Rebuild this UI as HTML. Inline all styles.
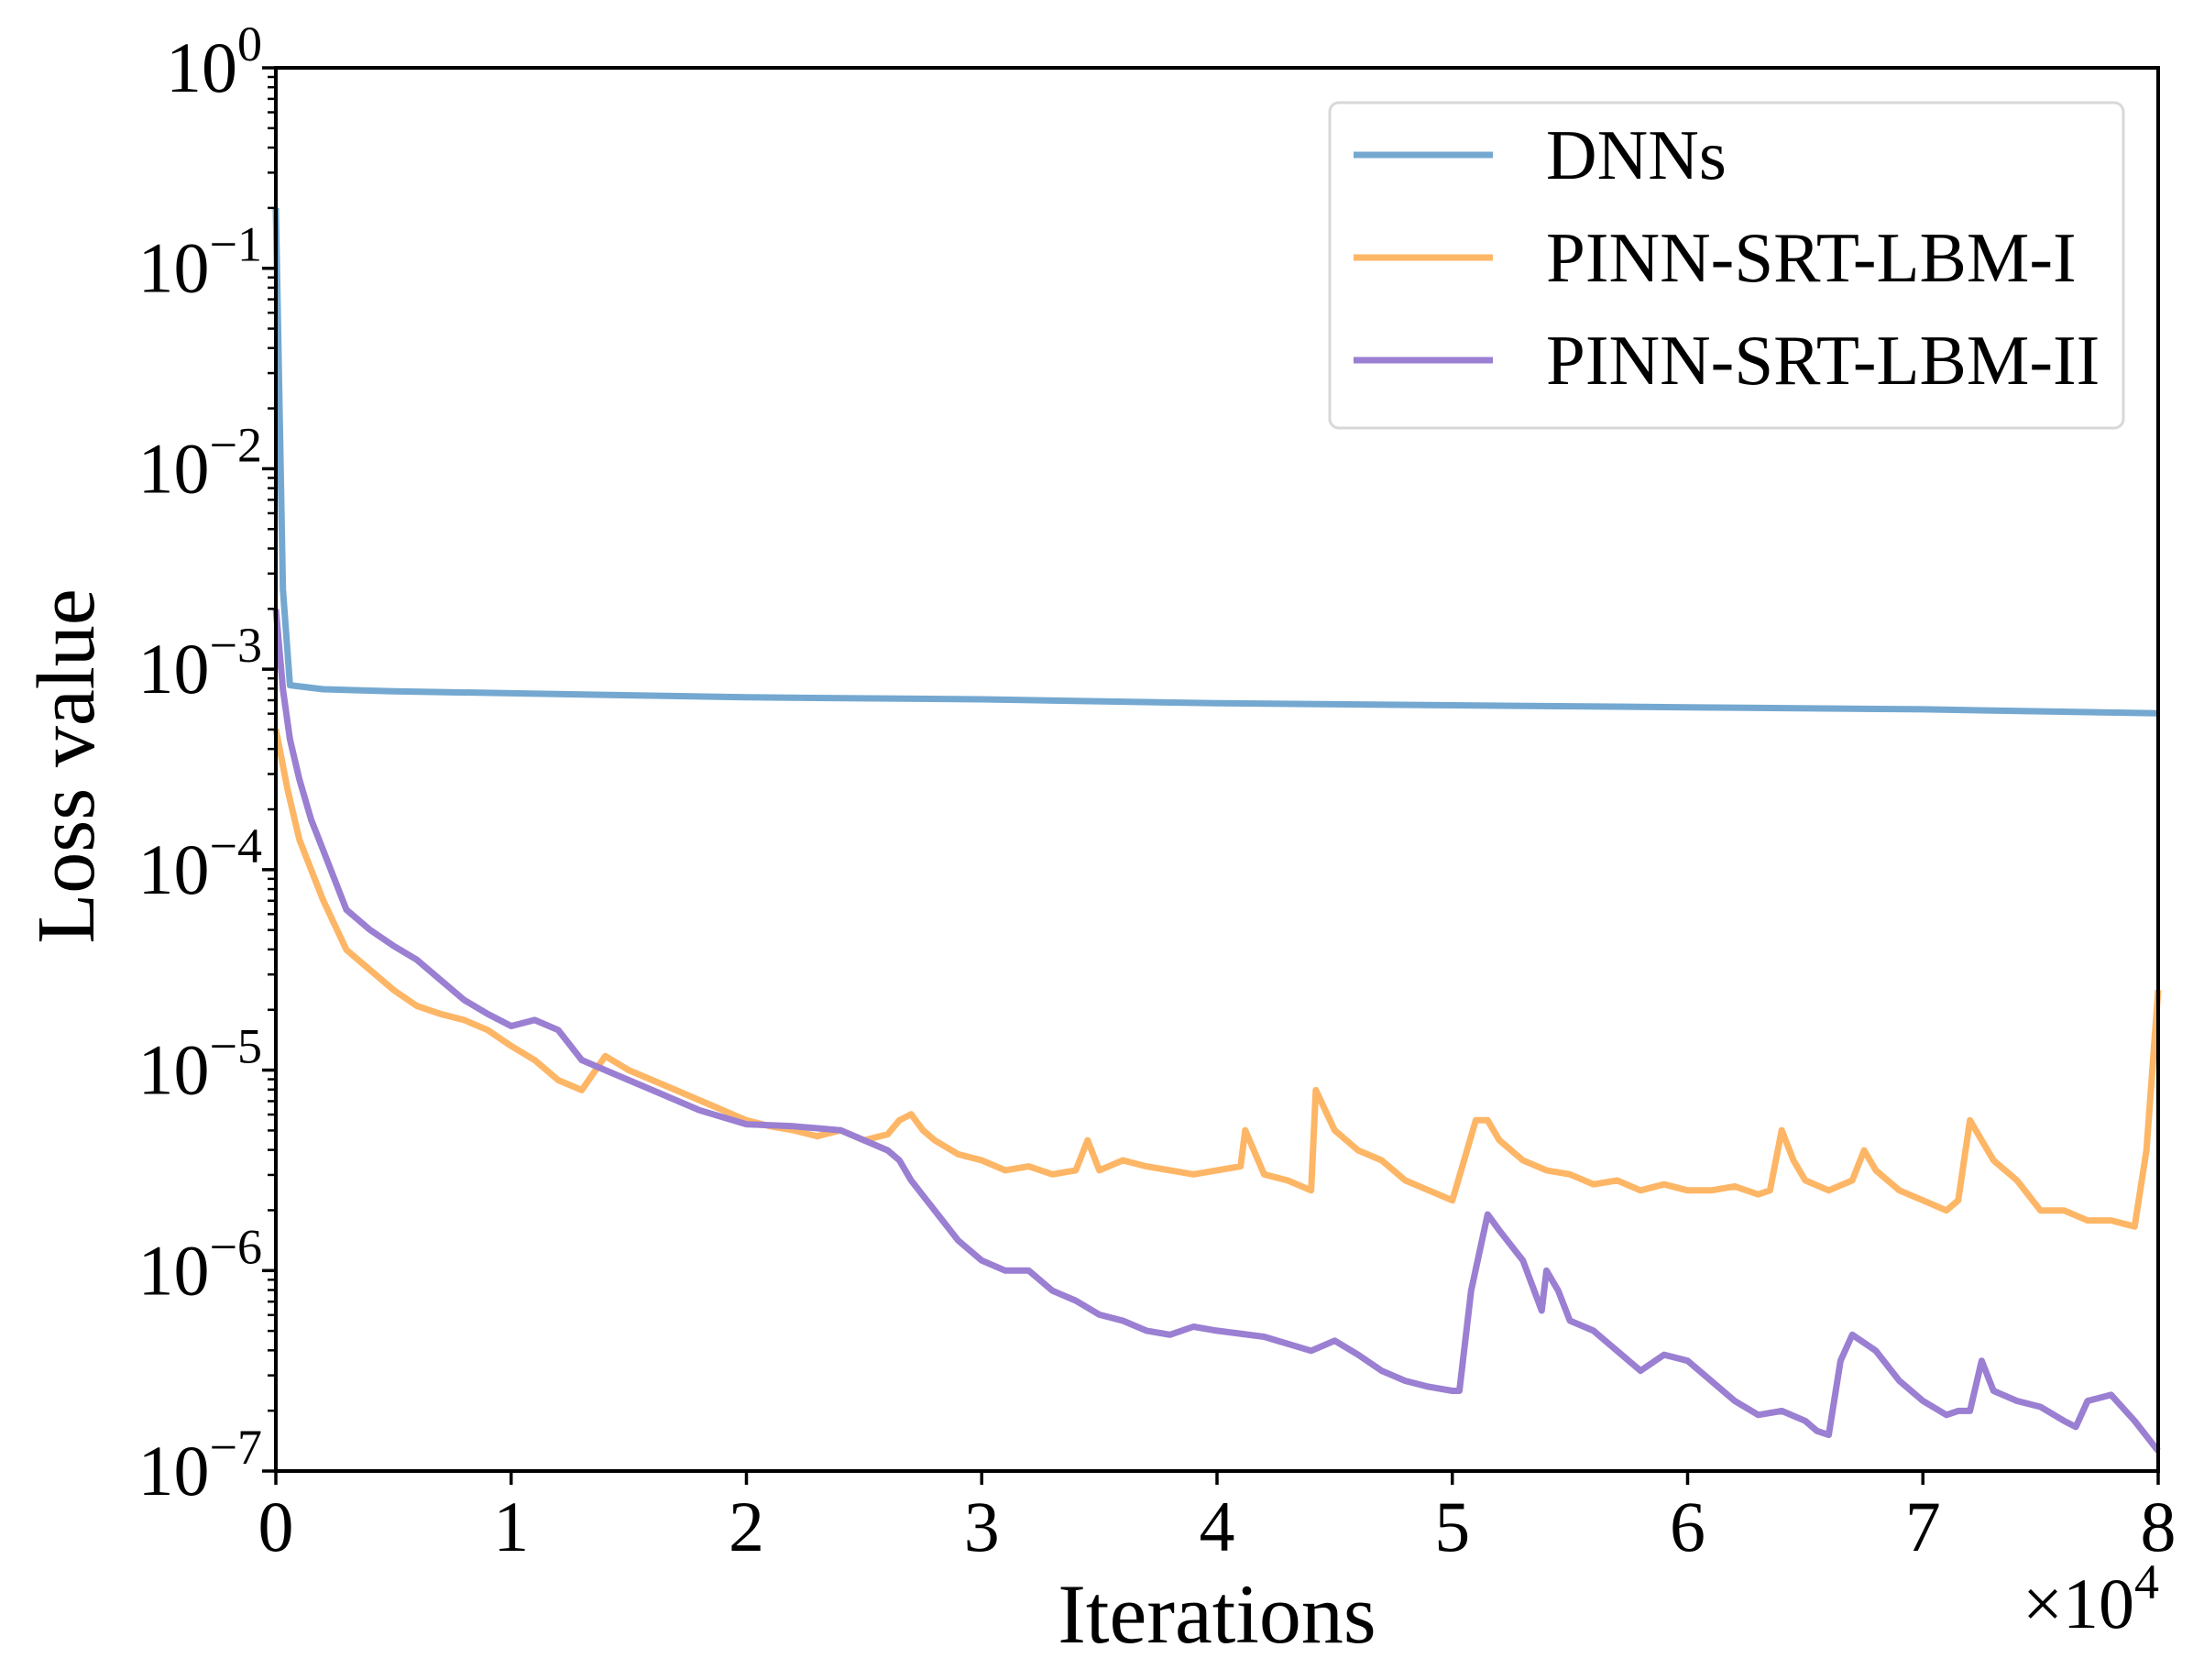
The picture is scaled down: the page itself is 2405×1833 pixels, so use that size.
<!DOCTYPE html>
<html><head><meta charset="utf-8"><style>
html,body{margin:0;padding:0;background:#fff;}
svg{display:block;font-family:"Liberation Serif",serif;}
</style></head><body>
<svg id="chart" width="2405" height="1833" viewBox="0 0 2405 1833">
<g id="plot"></g>
</svg>
<script>
const xTicks=[0,1,2,3,4,5,6,7,8];
const yTicks=[0,-1,-2,-3,-4,-5,-6,-7];
const seriesNames=["DNNs","PINN-SRT-LBM-I","PINN-SRT-LBM-II"];
const dnnX=[0,0.03,0.06,0.2,0.5,1,2,3,4,5,6,7,8];
const dnnY=[-0.7,-2.6,-3.08,-3.1,-3.11,-3.12,-3.14,-3.15,-3.17,-3.18,-3.19,-3.2,-3.22];
const pinn1X=[0,0.05,0.1,0.2,0.3,0.4,0.5,0.6,0.7,0.8,0.9,1.0,1.1,1.2,1.3,1.4,1.5,1.6,1.7,1.8,1.9,2.0,2.1,2.2,2.3,2.4,2.5,2.6,2.65,2.7,2.75,2.8,2.9,3.0,3.1,3.2,3.3,3.4,3.45,3.5,3.6,3.7,3.8,3.9,4.0,4.1,4.12,4.2,4.3,4.4,4.42,4.5,4.6,4.7,4.8,4.9,5.0,5.05,5.1,5.15,5.2,5.3,5.4,5.5,5.6,5.7,5.8,5.9,6.0,6.1,6.2,6.3,6.35,6.4,6.45,6.5,6.6,6.7,6.75,6.8,6.9,7.0,7.1,7.15,7.2,7.3,7.4,7.5,7.6,7.7,7.8,7.9,7.95,8.0];
const pinn1Y=[-3.3,-3.6,-3.85,-4.15,-4.4,-4.5,-4.6,-4.68,-4.72,-4.75,-4.8,-4.88,-4.95,-5.05,-5.1,-4.93,-5.0,-5.05,-5.1,-5.15,-5.2,-5.25,-5.28,-5.3,-5.33,-5.3,-5.35,-5.32,-5.25,-5.22,-5.3,-5.35,-5.42,-5.45,-5.5,-5.48,-5.52,-5.5,-5.35,-5.5,-5.45,-5.48,-5.5,-5.52,-5.5,-5.48,-5.3,-5.52,-5.55,-5.6,-5.1,-5.3,-5.4,-5.45,-5.55,-5.6,-5.65,-5.45,-5.25,-5.25,-5.35,-5.45,-5.5,-5.52,-5.57,-5.55,-5.6,-5.57,-5.6,-5.6,-5.58,-5.62,-5.6,-5.3,-5.45,-5.55,-5.6,-5.55,-5.4,-5.5,-5.6,-5.65,-5.7,-5.65,-5.25,-5.45,-5.55,-5.7,-5.7,-5.75,-5.75,-5.78,-5.4,-4.6];
const pinn2X=[0,0.03,0.06,0.1,0.15,0.2,0.3,0.4,0.5,0.6,0.7,0.8,0.9,1.0,1.1,1.2,1.3,1.4,1.5,1.6,1.8,2.0,2.2,2.4,2.5,2.6,2.65,2.7,2.8,2.9,3.0,3.1,3.2,3.3,3.4,3.5,3.6,3.7,3.8,3.9,4.0,4.2,4.4,4.5,4.6,4.7,4.8,4.9,5.0,5.03,5.08,5.15,5.2,5.3,5.38,5.4,5.45,5.5,5.6,5.7,5.8,5.9,6.0,6.1,6.2,6.3,6.4,6.5,6.55,6.6,6.65,6.7,6.8,6.9,7.0,7.1,7.15,7.2,7.25,7.3,7.4,7.5,7.6,7.65,7.7,7.8,7.9,8.0];
const pinn2Y=[-2.7,-3.1,-3.35,-3.55,-3.75,-3.9,-4.2,-4.3,-4.38,-4.45,-4.55,-4.65,-4.72,-4.78,-4.75,-4.8,-4.95,-5.0,-5.05,-5.1,-5.2,-5.27,-5.28,-5.3,-5.35,-5.4,-5.45,-5.55,-5.7,-5.85,-5.95,-6.0,-6.0,-6.1,-6.15,-6.22,-6.25,-6.3,-6.32,-6.28,-6.3,-6.33,-6.4,-6.35,-6.42,-6.5,-6.55,-6.58,-6.6,-6.6,-6.1,-5.72,-5.8,-5.95,-6.2,-6.0,-6.1,-6.25,-6.3,-6.4,-6.5,-6.42,-6.45,-6.55,-6.65,-6.72,-6.7,-6.75,-6.8,-6.82,-6.45,-6.32,-6.4,-6.55,-6.65,-6.72,-6.7,-6.7,-6.45,-6.6,-6.65,-6.68,-6.75,-6.78,-6.65,-6.62,-6.75,-6.9];
const colors=["#74a8d0","#fdb666","#9a7fd2"];
const X0=301,X1=2355,Y0=74,Y1=1605;
function sx(v){return X0+(v-0)/8*(X1-X0);}
function sy(v){return Y0+(0-v)/7*(Y1-Y0);}
const NS="http://www.w3.org/2000/svg";
const g=document.getElementById('plot');
function mk(tag,attrs,parent){const e=document.createElementNS(NS,tag);for(const k in attrs)e.setAttribute(k,attrs[k]);(parent||g).appendChild(e);return e;}
const sets=[[dnnX,dnnY],[pinn1X,pinn1Y],[pinn2X,pinn2Y]];
const snames=['dnns-line','pinn-srt-lbm-i-line','pinn-srt-lbm-ii-line'];
sets.forEach((s,i)=>{
  const d=s[0].map((x,j)=>(j?'L':'M')+sx(x).toFixed(1)+','+sy(s[1][j]).toFixed(1)).join(' ');
  const p=mk('path',{d:d,fill:'none',stroke:colors[i],'stroke-width':7,'stroke-linejoin':'round'});
  
  
});
const fr=mk('rect',{x:X0,y:Y0,width:X1-X0,height:Y1-Y0,fill:'none',stroke:'#000','stroke-width':4});


xTicks.forEach(t=>{
  const x=sx(t);
  mk('line',{x1:x,y1:Y1,x2:x,y2:Y1+15,stroke:'#000','stroke-width':3.5});
  const tx=mk('text',{x:x,y:1692,'text-anchor':'middle','font-size':78});
  tx.textContent=t;
  
  
});
yTicks.forEach(t=>{
  const y=sy(t);
  mk('line',{x1:X0,y1:y,x2:X0-15,y2:y,stroke:'#000','stroke-width':3.5});
  if(t>-7){for(let m=2;m<10;m++){const yy=sy(t-1+Math.log10(m));mk('line',{x1:X0,y1:yy,x2:X0-9,y2:yy,stroke:'#000','stroke-width':2.5});}}
  const tx=mk('text',{x:286,y:y+26,'text-anchor':'end','font-size':78});
  tx.innerHTML='10<tspan dy="-34" font-size="54">'+(t<0?'\u2212'+(-t):t)+'</tspan>';
  
  
});
</script>
<script>
const s=document.getElementById('chart');
function mk2(tag,attrs,txt){const e=document.createElementNS("http://www.w3.org/2000/svg",tag);for(const k in attrs)e.setAttribute(k,attrs[k]);if(txt!==undefined)e.textContent=txt;s.appendChild(e);return e;}
const xt=mk2('text',{x:1328,y:1792,'text-anchor':'middle','font-size':92},'Iterations');


const yt=mk2('text',{x:0,y:0,'text-anchor':'middle','font-size':90,transform:'translate(102,836) rotate(-90)'},'Loss value');


const mult=mk2('text',{x:2356,y:1776,'text-anchor':'end','font-size':78});
mult.innerHTML='\u00d710<tspan dy="-32" font-size="54">4</tspan>';


const lg=mk2('rect',{x:1451,y:112,width:866,height:355,rx:10,fill:'#fff',stroke:'#d8d8d8','stroke-width':3});


const ly=[169,281,393];
seriesNames.forEach((n,i)=>{
  const l=mk2('line',{x1:1477,y1:ly[i],x2:1629,y2:ly[i],stroke:colors[i],'stroke-width':7});
  
  
  const t=mk2('text',{x:1687,y:ly[i]+26,'font-size':77},n);
  
  
});
</script>
</body></html>
